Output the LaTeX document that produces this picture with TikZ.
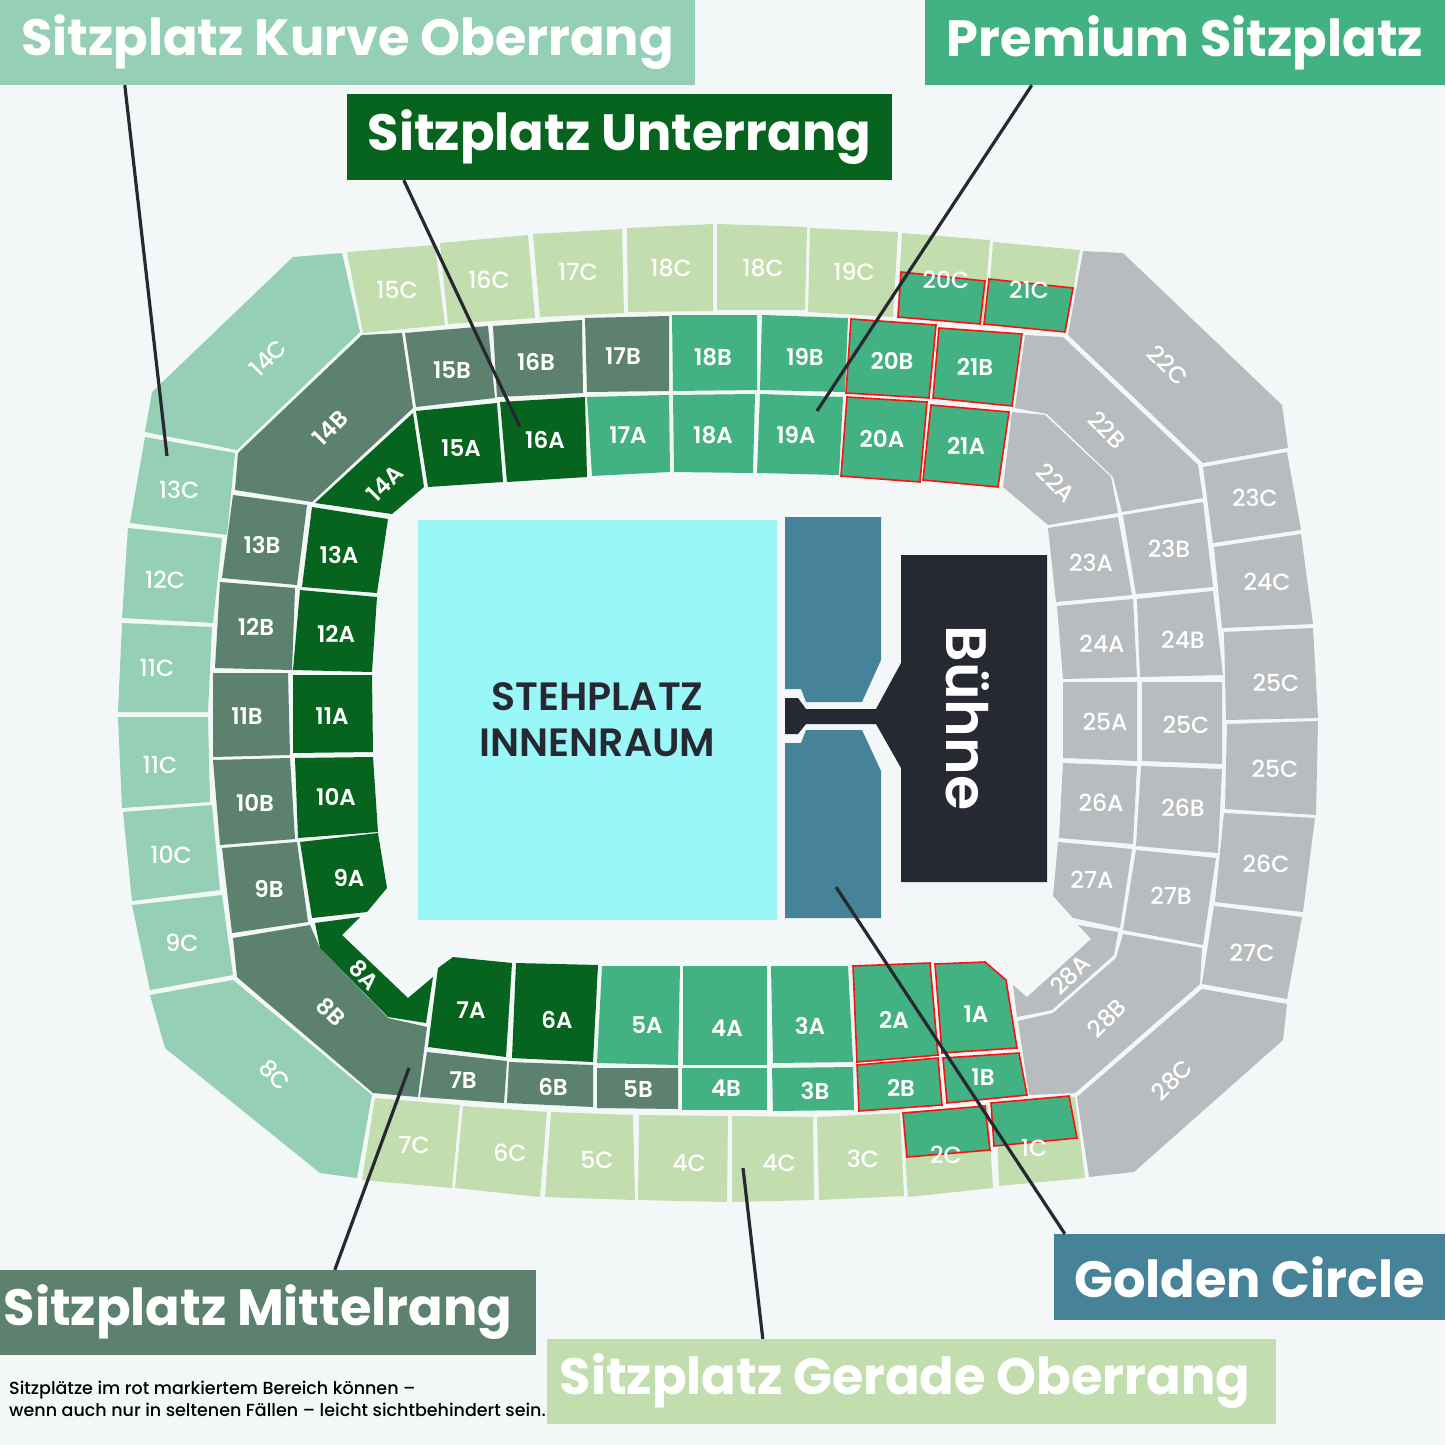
\documentclass[tikz,border=0pt]{standalone}
\usepackage{fontspec}
\setmainfont{Poppins}
\newfontfamily\popmed{Poppins Medium}
\newfontfamily\popsb{Poppins SemiBold}
\definecolor{bg}{HTML}{F4F7F8}
\definecolor{kurve}{HTML}{94CFB6}
\definecolor{ger}{HTML}{C2DEAF}
\definecolor{mit}{HTML}{5C826F}
\definecolor{unt}{HTML}{07641E}
\definecolor{prem}{HTML}{42B283}
\definecolor{grau}{HTML}{B9BCBE}
\definecolor{gold}{HTML}{468399}
\definecolor{innen}{HTML}{9AF7F8}
\definecolor{stagec}{HTML}{262931}
\definecolor{redb}{HTML}{FF1010}
\newcommand\secpoly[6]{\fill[#1] #2 -- cycle; \node[#3] (#4) at #5 {#6};}
\tikzset{
  lb/.style={text=white, font=\popsb\fontsize{23}{26}\selectfont, inner sep=0pt},
  lbc/.style={text=white, font=\popmed\fontsize{23.5}{26}\selectfont, inner sep=0pt},
  rp/.style={fill=prem, draw=redb, line width=1.6pt},
  tag/.style={text=white, font=\bfseries\fontsize{51}{56}\selectfont, inner sep=0pt},
  lead/.style={draw=stagec, line width=3.2pt},
}
\begin{document}
\begin{tikzpicture}[x=1pt,y=-1pt]
\fill[bg] (0,0) rectangle (1445,1445);
\useasboundingbox (0,0) rectangle (1445,1445);
% ---- Kurve Oberrang
\secpoly{kurve}{(293,257) -- (342,253) -- (360,332) -- (237,450) -- (145,432) -- (152,392)}{lbc,rotate=45}{s14C}{(268,358)}{14C}
\secpoly{kurve}{(145,437) -- (235,453) -- (227,535) -- (130,523)}{lbc}{s13C}{(179,490)}{13C}
\secpoly{kurve}{(128,528) -- (222,538) -- (213,623) -- (122,618)}{lbc}{s12C}{(165,580)}{12C}
\secpoly{kurve}{(122,623) -- (212,627) -- (208,712) -- (118,712)}{lbc}{s11Ca}{(157,668)}{11C}
\secpoly{kurve}{(118,717) -- (208,717) -- (210,802) -- (122,808)}{lbc}{s11Cb}{(160,765)}{11C}
\secpoly{kurve}{(123,812) -- (212,805) -- (220,890) -- (132,901)}{lbc}{s10C}{(171,855)}{10C}
\secpoly{kurve}{(132,905) -- (222,895) -- (233,975) -- (150,990)}{lbc}{s9C}{(182,943)}{9C}
\secpoly{kurve}{(150,995) -- (233,980) -- (372,1095) -- (357,1178) -- (320,1173) -- (165,1048)}{lbc,rotate=-45}{s8C}{(275,1075)}{8C}
% ---- Gerade Oberrang top
\secpoly{ger}{(347,252) -- (435,245) -- (445,325) -- (363,333)}{lbc}{s15C}{(397,290)}{15C}
\secpoly{ger}{(440,243) -- (528,235) -- (535,318) -- (448,324)}{lbc}{s16C}{(489,280)}{16C}
\secpoly{ger}{(533,234) -- (622,229) -- (624,313) -- (540,317)}{lbc}{s17C}{(578,272)}{17C}
\secpoly{ger}{(627,228) -- (713,224) -- (713,311) -- (628,312)}{lbc}{s18Ca}{(671,268)}{18C}
\secpoly{ger}{(717,224) -- (807,227) -- (805,310) -- (717,310)}{lbc}{s18Cb}{(763,268)}{18C}
\secpoly{ger}{(810,228) -- (898,232) -- (893,317) -- (808,312)}{lbc}{s19C}{(854,272)}{19C}
\fill[ger] (902,233) -- (990,240) -- (983,323) -- (897,318) -- cycle;
\fill[rp] (901,272) -- (985,281) -- (980,324) -- (898,317) -- cycle;
\node[lbc] (s20C) at (946,280) {20C};
\fill[ger] (993,242) -- (1080,250) -- (1066,332) -- (987,325) -- cycle;
\fill[rp] (989,279) -- (1073,288) -- (1065,332) -- (984,324) -- cycle;
\node[lbc] (s21C) at (1029,290) {21C};
% ---- Gerade Oberrang bottom
\secpoly{ger}{(375,1098) -- (460,1105) -- (452,1188) -- (362,1180)}{lbc}{s7C}{(414,1145)}{7C}
\secpoly{ger}{(463,1106) -- (547,1112) -- (540,1197) -- (455,1188)}{lbc}{s6C}{(510,1153)}{6C}
\secpoly{ger}{(551,1112) -- (633,1115) -- (635,1200) -- (545,1197)}{lbc}{s5C}{(597,1160)}{5C}
\secpoly{ger}{(639,1115) -- (728,1116) -- (727,1202) -- (638,1200)}{lbc}{s4Ca}{(689,1163)}{4C}
\secpoly{ger}{(732,1116) -- (813,1117) -- (814,1200) -- (732,1202)}{lbc}{s4Cb}{(779,1163)}{4C}
\secpoly{ger}{(817,1117) -- (900,1113) -- (904,1196) -- (819,1200)}{lbc}{s3C}{(863,1159)}{3C}
\fill[ger] (902,1112) -- (988,1106) -- (993,1188) -- (908,1197) -- cycle;
\fill[rp] (903,1113) -- (985,1106) -- (990,1150) -- (907,1157) -- cycle;
\node[lbc] (s2C) at (946,1155) {2C};
\fill[ger] (996,1104) -- (1075,1097) -- (1085,1178) -- (999,1186) -- cycle;
\fill[rp] (991,1103) -- (1069,1096) -- (1077,1138) -- (994,1146) -- cycle;
\node[lbc] (s1C) at (1034,1148) {1C};
% ---- Mittelrang
\secpoly{mit}{(362,335) -- (402,333) -- (413,408) -- (312,502) -- (235,490) -- (238,453)}{lb,rotate=45}{s14B}{(330,428)}{14B}
\secpoly{mit}{(405,333) -- (488,326) -- (495,398) -- (416,407)}{lb}{s15B}{(452,370)}{15B}
\secpoly{mit}{(493,326) -- (582,320) -- (583,393) -- (497,397)}{lb}{s16B}{(536,362)}{16B}
\secpoly{mit}{(585,318) -- (669,316) -- (669,391) -- (587,392)}{lb}{s17B}{(623,356)}{17B}
\secpoly{mit}{(233,495) -- (307,505) -- (297,585) -- (222,578)}{lb}{s13B}{(262,545)}{13B}
\secpoly{mit}{(220,582) -- (295,588) -- (292,670) -- (215,668)}{lb}{s12B}{(256,627)}{12B}
\secpoly{mit}{(213,673) -- (288,673) -- (290,755) -- (213,757)}{lb}{s11B}{(247,716)}{11B}
\secpoly{mit}{(213,760) -- (290,758) -- (295,839) -- (220,845)}{lb}{s10B}{(255,803)}{10B}
\secpoly{mit}{(222,848) -- (297,842) -- (308,922) -- (232,933)}{lb}{s9B}{(269,889)}{9B}
\secpoly{mit}{(233,938) -- (310,925) -- (320,948) -- (388,1018) -- (427,1027) -- (418,1097) -- (373,1093) -- (237,977)}{lb,rotate=-45}{s8B}{(331,1012)}{8B}
\secpoly{mit}{(427,1052) -- (507,1061) -- (504,1103) -- (420,1097)}{lb}{s7B}{(463,1080)}{7B}
\secpoly{mit}{(509,1062) -- (593,1065) -- (593,1107) -- (507,1103)}{lb}{s6B}{(553,1087)}{6B}
\secpoly{mit}{(597,1068) -- (678,1068) -- (678,1109) -- (597,1108)}{lb}{s5B}{(638,1089)}{5B}
% ---- Unterrang
\secpoly{unt}{(413,413) -- (424,487) -- (392,514) -- (315,503)}{lb,rotate=45}{s14A}{(385,483)}{14A}
\secpoly{unt}{(416,411) -- (497,403) -- (503,482) -- (428,487)}{lb}{s15A}{(461,448)}{15A}
\secpoly{unt}{(500,402) -- (585,397) -- (587,477) -- (507,482)}{lb}{s16A}{(545,440)}{16A}
\secpoly{unt}{(312,507) -- (388,519) -- (377,593) -- (302,587)}{lb}{s13A}{(339,555)}{13A}
\secpoly{unt}{(300,590) -- (377,597) -- (372,672) -- (293,670)}{lb}{s12A}{(336,634)}{12A}
\secpoly{unt}{(293,675) -- (372,675) -- (373,752) -- (293,753)}{lb}{s11A}{(332,716)}{11A}
\secpoly{unt}{(295,758) -- (373,757) -- (378,832) -- (298,838)}{lb}{s10A}{(336,797)}{10A}
\secpoly{unt}{(300,842) -- (378,833) -- (387,888) -- (367,912) -- (312,918)}{lb}{s9A}{(349,878)}{9A}
\secpoly{unt}{(315,923) -- (360,917) -- (342,935) -- (408,998) -- (433,977) -- (426,1023) -- (388,1017) -- (320,948)}{lb,rotate=-45}{s8A}{(364,975)}{8A}
\secpoly{unt}{(438,968) -- (453,957) -- (512,963) -- (506,1057) -- (428,1047)}{lb}{s7A}{(471,1010)}{7A}
\secpoly{unt}{(516,963) -- (598,965) -- (593,1062) -- (512,1058)}{lb}{s6A}{(557,1020)}{6A}
% ---- Premium
\secpoly{prem}{(587,397) -- (669,395) -- (670,472) -- (592,476)}{lb}{s17A}{(628,435)}{17A}
\secpoly{prem}{(673,395) -- (755,394) -- (753,473) -- (674,472)}{lb}{s18A}{(713,435)}{18A}
\secpoly{prem}{(760,394) -- (843,397) -- (839,475) -- (757,473)}{lb}{s19A}{(796,435)}{19A}
\secpoly{rp}{(847,397) -- (927,402) -- (920,482) -- (841,476)}{lb}{s20A}{(882,439)}{20A}
\secpoly{rp}{(931,405) -- (1009,412) -- (998,487) -- (923,480)}{lb}{s21A}{(966,446)}{21A}
\secpoly{prem}{(672,315) -- (757,315) -- (757,390) -- (673,391)}{lb}{s18B}{(713,357)}{18B}
\secpoly{prem}{(762,315) -- (848,318) -- (845,392) -- (760,390)}{lb}{s19B}{(805,357)}{19B}
\secpoly{rp}{(851,319) -- (936,325) -- (929,398) -- (846,393)}{lb}{s20B}{(892,361)}{20B}
\secpoly{rp}{(939,328) -- (1022,334) -- (1012,406) -- (933,398)}{lb}{s21B}{(975,367)}{21B}
\secpoly{prem}{(602,966) -- (680,966) -- (678,1065) -- (597,1063)}{lb}{s5A}{(647,1025)}{5A}
\secpoly{prem}{(683,966) -- (767,966) -- (767,1065) -- (683,1065)}{lb}{s4A}{(727,1028)}{4A}
\secpoly{prem}{(771,966) -- (848,966) -- (853,1062) -- (773,1063)}{lb}{s3A}{(810,1026)}{3A}
\secpoly{rp}{(853,966) -- (930,963) -- (938,1055) -- (857,1062)}{lb}{s2A}{(894,1020)}{2A}
\secpoly{rp}{(935,964) -- (985,962) -- (1006,980) -- (1017,1048) -- (942,1053)}{lb}{s1A}{(976,1014)}{1A}
\secpoly{prem}{(682,1068) -- (767,1068) -- (767,1110) -- (682,1110)}{lb}{s4B}{(726,1088)}{4B}
\secpoly{prem}{(772,1068) -- (853,1067) -- (854,1110) -- (773,1111)}{lb}{s3B}{(815,1091)}{3B}
\secpoly{rp}{(857,1065) -- (938,1058) -- (942,1105) -- (859,1111)}{lb}{s2B}{(901,1088)}{2B}
\secpoly{rp}{(943,1058) -- (1019,1053) -- (1027,1095) -- (947,1103)}{lb}{s1B}{(983,1077)}{1B}
% ---- Grau
\secpoly{grau}{(1083,251) -- (1123,253) -- (1282,405) -- (1288,448) -- (1203,463) -- (1068,335)}{lbc,rotate=-45}{s22C}{(1168,365)}{22C}
\secpoly{grau}{(1025,335) -- (1063,337) -- (1198,465) -- (1203,498) -- (1122,512) -- (1113,477) -- (1047,414) -- (1015,408)}{lbc,rotate=-45}{s22B}{(1107,430)}{22B}
\secpoly{grau}{(1012,412) -- (1045,415) -- (1111,477) -- (1118,513) -- (1048,525) -- (1003,487)}{lbc,rotate=-45}{s22A}{(1056,483)}{22A}
\secpoly{grau}{(1203,467) -- (1287,452) -- (1301,530) -- (1213,543)}{lbc}{s23C}{(1255,498)}{23C}
\secpoly{grau}{(1123,515) -- (1203,502) -- (1213,587) -- (1136,594)}{lbc}{s23B}{(1169,549)}{23B}
\secpoly{grau}{(1048,528) -- (1118,517) -- (1132,595) -- (1056,602)}{lbc}{s23A}{(1091,563)}{23A}
\secpoly{grau}{(1214,547) -- (1301,534) -- (1313,624) -- (1222,628)}{lbc}{s24C}{(1267,582)}{24C}
\secpoly{grau}{(1137,599) -- (1213,591) -- (1223,675) -- (1140,677)}{lbc}{s24B}{(1183,640)}{24B}
\secpoly{grau}{(1057,606) -- (1133,599) -- (1137,677) -- (1063,679)}{lbc}{s24A}{(1102,644)}{24A}
\secpoly{grau}{(1224,632) -- (1313,628) -- (1318,718) -- (1226,720)}{lbc}{s25Ca}{(1276,683)}{25C}
\secpoly{grau}{(1142,682) -- (1222,682) -- (1222,764) -- (1142,761)}{lbc}{s25Cb}{(1186,725)}{25C}
\secpoly{grau}{(1063,682) -- (1137,682) -- (1137,761) -- (1063,758)}{lbc}{s25A}{(1105,722)}{25A}
\secpoly{grau}{(1227,724) -- (1318,721) -- (1316,815) -- (1225,809)}{lbc}{s25Cc}{(1275,769)}{25C}
\secpoly{grau}{(1063,763) -- (1137,766) -- (1133,844) -- (1059,838)}{lbc}{s26A}{(1101,803)}{26A}
\secpoly{grau}{(1141,766) -- (1222,769) -- (1218,853) -- (1136,846)}{lbc}{s26B}{(1183,808)}{26B}
\secpoly{grau}{(1224,813) -- (1315,818) -- (1303,912) -- (1215,902)}{lbc}{s26C}{(1266,864)}{26C}
\secpoly{grau}{(1058,842) -- (1132,849) -- (1120,928) -- (1073,918) -- (1053,896)}{lbc}{s27A}{(1092,880)}{27A}
\secpoly{grau}{(1136,850) -- (1216,858) -- (1203,945) -- (1123,930)}{lbc}{s27B}{(1171,896)}{27B}
\secpoly{grau}{(1214,906) -- (1302,917) -- (1287,999) -- (1202,984)}{lbc}{s27C}{(1252,953)}{27C}
\secpoly{grau}{(1078,925) -- (1118,932) -- (1114,955) -- (1052,1010) -- (1017,1017) -- (1013,985) -- (1027,997) -- (1091,939)}{lbc,rotate=45}{s28A}{(1070,975)}{28A}
\secpoly{grau}{(1123,934) -- (1202,948) -- (1200,984) -- (1075,1093) -- (1029,1095) -- (1018,1021) -- (1053,1013) -- (1116,958)}{lbc,rotate=45}{s28B}{(1107,1018)}{28B}
\secpoly{grau}{(1202,989) -- (1287,1004) -- (1283,1040) -- (1134,1172) -- (1089,1177) -- (1077,1097)}{lbc,rotate=45}{s28C}{(1172,1080)}{28C}
% ---- Innenraum, Golden Circle, Buehne
\node[fill=innen, minimum width=359pt, minimum height=400pt, inner sep=0pt, align=center, text=stagec, font=\popsb\fontsize{39.5}{46}\selectfont] (inn) at (597.5,720) {STEHPLATZ\\INNENRAUM};
\fill[gold] (785,517) -- (881,517) -- (881,660) -- (862,702) -- (806,702) -- (801,689) -- (785,689) -- cycle;
\fill[gold] (785,743) -- (801,743) -- (806,730) -- (862,730) -- (881,771) -- (881,918) -- (785,918) -- cycle;
\fill[stagec] (901,555) -- (1047,555) -- (1047,882) -- (901,882) -- (901,768) -- (876,724) -- (806,724) -- (798,734) -- (785,734) -- (785,698) -- (798,698) -- (806,709) -- (876,709) -- (901,663) -- cycle;
\node[rotate=-90, text=white, inner sep=0pt, font=\popsb\fontsize{57}{60}\selectfont] (buehne) at (968,718) {Bühne};
% ---- leader targets
\coordinate (eKurve) at (167,456);
\coordinate (eUnter) at (520,427);
\coordinate (ePrem) at (817,411);
\coordinate (eMittel) at (409,1068);
\coordinate (eGolden) at (836,887);
\coordinate (eGerade) at (743,1168);
% ---- tag boxes
\node[tag, fill=kurve, minimum width=695pt, minimum height=85pt] (tKurve) at (347.5,42.5) {Sitzplatz Kurve Oberrang};
\node[tag, fill=prem, minimum width=520pt, minimum height=85pt] (tPrem) at (1185,42.5) {Premium Sitzplatz};
\node[tag, fill=unt, minimum width=545pt, minimum height=86pt] (tUnter) at (619.5,137) {Sitzplatz Unterrang};
\node[tag, fill=mit, minimum width=536pt, minimum height=85pt] (tMittel) at (268,1312.5) {\hspace*{-20pt}Sitzplatz Mittelrang};
\node[tag, fill=gold, minimum width=391pt, minimum height=86pt] (tGolden) at (1249.5,1277) {Golden Circle};
\node[tag, fill=ger, minimum width=729pt, minimum height=85pt] (tGerade) at (911.5,1381.5) {\hspace*{-13pt}Sitzplatz Gerade Oberrang};
% ---- leaders
\draw[lead] ([xshift=125pt]tKurve.south west) -- (eKurve);
\draw[lead] ([xshift=57pt]tUnter.south west) -- (eUnter);
\draw[lead] ([xshift=107pt]tPrem.south west) -- (ePrem);
\draw[lead] ([xshift=335pt]tMittel.north west) -- (eMittel);
\draw[lead] ([xshift=11pt]tGolden.north west) -- (eGolden);
\draw[lead] ([xshift=216pt]tGerade.north west) -- (eGerade);
% ---- note
\node[anchor=north west, align=left, inner sep=0pt, text=black, font=\popmed\fontsize{17.5}{22}\selectfont] (note) at (9,1381) {Sitzplätze im rot markiertem Bereich können –\\wenn auch nur in seltenen Fällen – leicht sichtbehindert sein.};
\end{tikzpicture}
\end{document}
